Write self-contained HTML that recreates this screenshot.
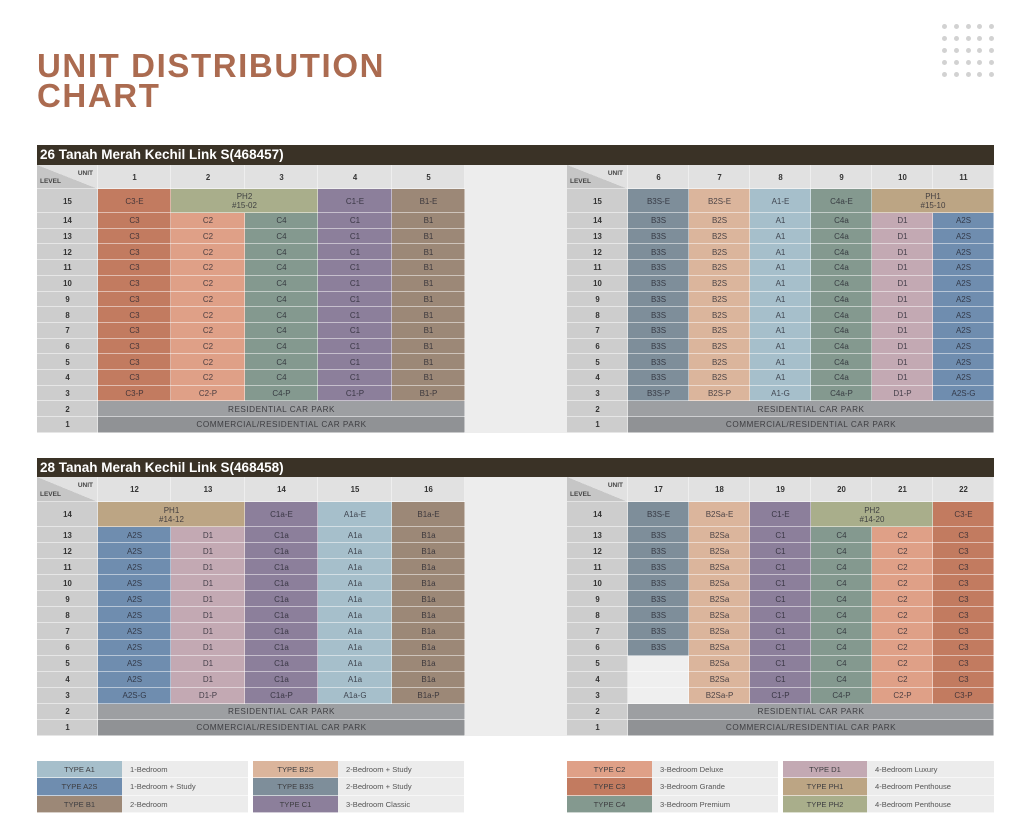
<!DOCTYPE html>
<html><head><meta charset="utf-8">
<style>
*{margin:0;padding:0;box-sizing:border-box}
body{width:1024px;height:833px;background:#fff;position:relative;overflow:hidden;font-family:"Liberation Sans",sans-serif}
.title{position:absolute;left:37px;top:51px;font-size:33px;line-height:30px;font-weight:bold;color:#ab6b50;letter-spacing:1.6px}
.dots{position:absolute;left:942px;top:24px}
.dots i{position:absolute;width:5px;height:5px;border-radius:50%;background:#d2d2d2}
.bar{position:absolute;left:37px;width:957px;height:20px;background:#3a3226;color:#fff;font-weight:bold;font-size:13.5px;line-height:20px;padding-left:3px}
table.t{position:absolute;left:37px;width:957px;table-layout:fixed;border-collapse:separate;border-spacing:0}
table.t td{padding:0;text-align:center;vertical-align:middle;font-size:8px;line-height:9px;color:rgba(35,35,45,.78);box-shadow:inset 0 -1px 0 rgba(255,255,255,.5),inset -1px 0 0 rgba(255,255,255,.45);overflow:hidden;white-space:nowrap}
table.t td.lv{background:#cdcdcd;font-weight:bold;color:#333;font-size:7.8px}
table.t td.hd{background:#e1e1e1;font-weight:bold;color:#333;font-size:7.8px}
table.t td.gp{background:#ededed;box-shadow:none}
table.t td.dg{position:relative;background:linear-gradient(to top right,#c6c6c6 50%,#e1e1e1 50%)}
td.dg .u{position:absolute;right:5px;top:4px;font-size:6.5px;font-weight:bold;color:#444}
td.dg .l{position:absolute;left:3px;bottom:3px;font-size:6.5px;font-weight:bold;color:#444}
.c3{background:#c27b60}.c2{background:#dfa087}.c4{background:#84998f}.c1{background:#8c7f9b}.b1{background:#9c8877}
.ph2{background:#a9ae8b}.ph1{background:#bca584}.b3s{background:#7e8e9a}.b2s{background:#dbb59c}.a1{background:#a6bfcb}
.d1{background:#c3a9b3}.a2s{background:#6f8daf}.cp2{background:#9d9fa2}.cp1{background:#909295}.bl{background:#efefef}
table.t td.cp2,table.t td.cp1{font-size:8.2px;letter-spacing:.5px;color:#3e3e42}
.lg{position:absolute;font-size:7.6px;line-height:17px;height:17px;color:#3d3d40;box-shadow:inset 0 -1px 0 rgba(255,255,255,.6)}
.lg.s{text-align:center;width:85px}
.lg.d{background:#ececec;padding-left:8px;color:#555}
</style></head><body>
<div class="title">UNIT DISTRIBUTION<br>CHART</div>
<div class="dots">
<i style="left:0;top:0"></i><i style="left:12px;top:0"></i><i style="left:24px;top:0"></i><i style="left:35px;top:0"></i><i style="left:47px;top:0"></i>
<i style="left:0;top:12px"></i><i style="left:12px;top:12px"></i><i style="left:24px;top:12px"></i><i style="left:35px;top:12px"></i><i style="left:47px;top:12px"></i>
<i style="left:0;top:24px"></i><i style="left:12px;top:24px"></i><i style="left:24px;top:24px"></i><i style="left:35px;top:24px"></i><i style="left:47px;top:24px"></i>
<i style="left:0;top:36px"></i><i style="left:12px;top:36px"></i><i style="left:24px;top:36px"></i><i style="left:35px;top:36px"></i><i style="left:47px;top:36px"></i>
<i style="left:0;top:48px"></i><i style="left:12px;top:48px"></i><i style="left:24px;top:48px"></i><i style="left:35px;top:48px"></i><i style="left:47px;top:48px"></i>
</div>

<div class="bar" style="top:145px">26 Tanah Merah Kechil Link S(468457)</div>
<table class="t" style="top:165px">
<colgroup><col style="width:61px"><col style="width:73px"><col style="width:74px"><col style="width:73px"><col style="width:74px"><col style="width:73px"><col style="width:102px"><col style="width:61px"><col style="width:61px"><col style="width:61px"><col style="width:61px"><col style="width:61px"><col style="width:61px"><col style="width:61px"></colgroup>
<tr style="height:24px"><td class="dg"><span class="u">UNIT</span><span class="l">LEVEL</span></td><td class="hd">1</td><td class="hd">2</td><td class="hd">3</td><td class="hd">4</td><td class="hd">5</td><td class="gp" rowspan="16"></td><td class="dg"><span class="u">UNIT</span><span class="l">LEVEL</span></td><td class="hd">6</td><td class="hd">7</td><td class="hd">8</td><td class="hd">9</td><td class="hd">10</td><td class="hd">11</td></tr>
<tr style="height:24px"><td class="lv">15</td><td class="c3">C3-E</td><td class="ph2" colspan="2">PH2<br>#15-02</td><td class="c1">C1-E</td><td class="b1">B1-E</td><td class="lv">15</td><td class="b3s">B3S-E</td><td class="b2s">B2S-E</td><td class="a1">A1-E</td><td class="c4">C4a-E</td><td class="ph1" colspan="2">PH1<br>#15-10</td></tr>
<tr style="height:15.71px"><td class="lv">14</td><td class="c3">C3</td><td class="c2">C2</td><td class="c4">C4</td><td class="c1">C1</td><td class="b1">B1</td><td class="lv">14</td><td class="b3s">B3S</td><td class="b2s">B2S</td><td class="a1">A1</td><td class="c4">C4a</td><td class="d1">D1</td><td class="a2s">A2S</td></tr>
<tr style="height:15.71px"><td class="lv">13</td><td class="c3">C3</td><td class="c2">C2</td><td class="c4">C4</td><td class="c1">C1</td><td class="b1">B1</td><td class="lv">13</td><td class="b3s">B3S</td><td class="b2s">B2S</td><td class="a1">A1</td><td class="c4">C4a</td><td class="d1">D1</td><td class="a2s">A2S</td></tr>
<tr style="height:15.71px"><td class="lv">12</td><td class="c3">C3</td><td class="c2">C2</td><td class="c4">C4</td><td class="c1">C1</td><td class="b1">B1</td><td class="lv">12</td><td class="b3s">B3S</td><td class="b2s">B2S</td><td class="a1">A1</td><td class="c4">C4a</td><td class="d1">D1</td><td class="a2s">A2S</td></tr>
<tr style="height:15.71px"><td class="lv">11</td><td class="c3">C3</td><td class="c2">C2</td><td class="c4">C4</td><td class="c1">C1</td><td class="b1">B1</td><td class="lv">11</td><td class="b3s">B3S</td><td class="b2s">B2S</td><td class="a1">A1</td><td class="c4">C4a</td><td class="d1">D1</td><td class="a2s">A2S</td></tr>
<tr style="height:15.71px"><td class="lv">10</td><td class="c3">C3</td><td class="c2">C2</td><td class="c4">C4</td><td class="c1">C1</td><td class="b1">B1</td><td class="lv">10</td><td class="b3s">B3S</td><td class="b2s">B2S</td><td class="a1">A1</td><td class="c4">C4a</td><td class="d1">D1</td><td class="a2s">A2S</td></tr>
<tr style="height:15.71px"><td class="lv">9</td><td class="c3">C3</td><td class="c2">C2</td><td class="c4">C4</td><td class="c1">C1</td><td class="b1">B1</td><td class="lv">9</td><td class="b3s">B3S</td><td class="b2s">B2S</td><td class="a1">A1</td><td class="c4">C4a</td><td class="d1">D1</td><td class="a2s">A2S</td></tr>
<tr style="height:15.71px"><td class="lv">8</td><td class="c3">C3</td><td class="c2">C2</td><td class="c4">C4</td><td class="c1">C1</td><td class="b1">B1</td><td class="lv">8</td><td class="b3s">B3S</td><td class="b2s">B2S</td><td class="a1">A1</td><td class="c4">C4a</td><td class="d1">D1</td><td class="a2s">A2S</td></tr>
<tr style="height:15.71px"><td class="lv">7</td><td class="c3">C3</td><td class="c2">C2</td><td class="c4">C4</td><td class="c1">C1</td><td class="b1">B1</td><td class="lv">7</td><td class="b3s">B3S</td><td class="b2s">B2S</td><td class="a1">A1</td><td class="c4">C4a</td><td class="d1">D1</td><td class="a2s">A2S</td></tr>
<tr style="height:15.71px"><td class="lv">6</td><td class="c3">C3</td><td class="c2">C2</td><td class="c4">C4</td><td class="c1">C1</td><td class="b1">B1</td><td class="lv">6</td><td class="b3s">B3S</td><td class="b2s">B2S</td><td class="a1">A1</td><td class="c4">C4a</td><td class="d1">D1</td><td class="a2s">A2S</td></tr>
<tr style="height:15.71px"><td class="lv">5</td><td class="c3">C3</td><td class="c2">C2</td><td class="c4">C4</td><td class="c1">C1</td><td class="b1">B1</td><td class="lv">5</td><td class="b3s">B3S</td><td class="b2s">B2S</td><td class="a1">A1</td><td class="c4">C4a</td><td class="d1">D1</td><td class="a2s">A2S</td></tr>
<tr style="height:15.71px"><td class="lv">4</td><td class="c3">C3</td><td class="c2">C2</td><td class="c4">C4</td><td class="c1">C1</td><td class="b1">B1</td><td class="lv">4</td><td class="b3s">B3S</td><td class="b2s">B2S</td><td class="a1">A1</td><td class="c4">C4a</td><td class="d1">D1</td><td class="a2s">A2S</td></tr>
<tr style="height:15.71px"><td class="lv">3</td><td class="c3">C3-P</td><td class="c2">C2-P</td><td class="c4">C4-P</td><td class="c1">C1-P</td><td class="b1">B1-P</td><td class="lv">3</td><td class="b3s">B3S-P</td><td class="b2s">B2S-P</td><td class="a1">A1-G</td><td class="c4">C4a-P</td><td class="d1">D1-P</td><td class="a2s">A2S-G</td></tr>
<tr style="height:15.71px"><td class="lv">2</td><td class="cp2" colspan="5">RESIDENTIAL CAR PARK</td><td class="lv">2</td><td class="cp2" colspan="6">RESIDENTIAL CAR PARK</td></tr>
<tr style="height:15.71px"><td class="lv">1</td><td class="cp1" colspan="5">COMMERCIAL/RESIDENTIAL CAR PARK</td><td class="lv">1</td><td class="cp1" colspan="6">COMMERCIAL/RESIDENTIAL CAR PARK</td></tr>
</table>

<div class="bar" style="top:458px;height:19px;line-height:19px">28 Tanah Merah Kechil Link S(468458)</div>
<table class="t" style="top:477px">
<colgroup><col style="width:61px"><col style="width:73px"><col style="width:74px"><col style="width:73px"><col style="width:74px"><col style="width:73px"><col style="width:102px"><col style="width:61px"><col style="width:61px"><col style="width:61px"><col style="width:61px"><col style="width:61px"><col style="width:61px"><col style="width:61px"></colgroup>
<tr style="height:25px"><td class="dg"><span class="u">UNIT</span><span class="l">LEVEL</span></td><td class="hd">12</td><td class="hd">13</td><td class="hd">14</td><td class="hd">15</td><td class="hd">16</td><td class="gp" rowspan="15"></td><td class="dg"><span class="u">UNIT</span><span class="l">LEVEL</span></td><td class="hd">17</td><td class="hd">18</td><td class="hd">19</td><td class="hd">20</td><td class="hd">21</td><td class="hd">22</td></tr>
<tr style="height:25px"><td class="lv">14</td><td class="ph1" colspan="2">PH1<br>#14-12</td><td class="c1">C1a-E</td><td class="a1">A1a-E</td><td class="b1">B1a-E</td><td class="lv">14</td><td class="b3s">B3S-E</td><td class="b2s">B2Sa-E</td><td class="c1">C1-E</td><td class="ph2" colspan="2">PH2<br>#14-20</td><td class="c3">C3-E</td></tr>
<tr style="height:16.08px"><td class="lv">13</td><td class="a2s">A2S</td><td class="d1">D1</td><td class="c1">C1a</td><td class="a1">A1a</td><td class="b1">B1a</td><td class="lv">13</td><td class="b3s">B3S</td><td class="b2s">B2Sa</td><td class="c1">C1</td><td class="c4">C4</td><td class="c2">C2</td><td class="c3">C3</td></tr>
<tr style="height:16.08px"><td class="lv">12</td><td class="a2s">A2S</td><td class="d1">D1</td><td class="c1">C1a</td><td class="a1">A1a</td><td class="b1">B1a</td><td class="lv">12</td><td class="b3s">B3S</td><td class="b2s">B2Sa</td><td class="c1">C1</td><td class="c4">C4</td><td class="c2">C2</td><td class="c3">C3</td></tr>
<tr style="height:16.08px"><td class="lv">11</td><td class="a2s">A2S</td><td class="d1">D1</td><td class="c1">C1a</td><td class="a1">A1a</td><td class="b1">B1a</td><td class="lv">11</td><td class="b3s">B3S</td><td class="b2s">B2Sa</td><td class="c1">C1</td><td class="c4">C4</td><td class="c2">C2</td><td class="c3">C3</td></tr>
<tr style="height:16.08px"><td class="lv">10</td><td class="a2s">A2S</td><td class="d1">D1</td><td class="c1">C1a</td><td class="a1">A1a</td><td class="b1">B1a</td><td class="lv">10</td><td class="b3s">B3S</td><td class="b2s">B2Sa</td><td class="c1">C1</td><td class="c4">C4</td><td class="c2">C2</td><td class="c3">C3</td></tr>
<tr style="height:16.08px"><td class="lv">9</td><td class="a2s">A2S</td><td class="d1">D1</td><td class="c1">C1a</td><td class="a1">A1a</td><td class="b1">B1a</td><td class="lv">9</td><td class="b3s">B3S</td><td class="b2s">B2Sa</td><td class="c1">C1</td><td class="c4">C4</td><td class="c2">C2</td><td class="c3">C3</td></tr>
<tr style="height:16.08px"><td class="lv">8</td><td class="a2s">A2S</td><td class="d1">D1</td><td class="c1">C1a</td><td class="a1">A1a</td><td class="b1">B1a</td><td class="lv">8</td><td class="b3s">B3S</td><td class="b2s">B2Sa</td><td class="c1">C1</td><td class="c4">C4</td><td class="c2">C2</td><td class="c3">C3</td></tr>
<tr style="height:16.08px"><td class="lv">7</td><td class="a2s">A2S</td><td class="d1">D1</td><td class="c1">C1a</td><td class="a1">A1a</td><td class="b1">B1a</td><td class="lv">7</td><td class="b3s">B3S</td><td class="b2s">B2Sa</td><td class="c1">C1</td><td class="c4">C4</td><td class="c2">C2</td><td class="c3">C3</td></tr>
<tr style="height:16.08px"><td class="lv">6</td><td class="a2s">A2S</td><td class="d1">D1</td><td class="c1">C1a</td><td class="a1">A1a</td><td class="b1">B1a</td><td class="lv">6</td><td class="b3s">B3S</td><td class="b2s">B2Sa</td><td class="c1">C1</td><td class="c4">C4</td><td class="c2">C2</td><td class="c3">C3</td></tr>
<tr style="height:16.08px"><td class="lv">5</td><td class="a2s">A2S</td><td class="d1">D1</td><td class="c1">C1a</td><td class="a1">A1a</td><td class="b1">B1a</td><td class="lv">5</td><td class="bl"></td><td class="b2s">B2Sa</td><td class="c1">C1</td><td class="c4">C4</td><td class="c2">C2</td><td class="c3">C3</td></tr>
<tr style="height:16.08px"><td class="lv">4</td><td class="a2s">A2S</td><td class="d1">D1</td><td class="c1">C1a</td><td class="a1">A1a</td><td class="b1">B1a</td><td class="lv">4</td><td class="bl"></td><td class="b2s">B2Sa</td><td class="c1">C1</td><td class="c4">C4</td><td class="c2">C2</td><td class="c3">C3</td></tr>
<tr style="height:16.08px"><td class="lv">3</td><td class="a2s">A2S-G</td><td class="d1">D1-P</td><td class="c1">C1a-P</td><td class="a1">A1a-G</td><td class="b1">B1a-P</td><td class="lv">3</td><td class="bl"></td><td class="b2s">B2Sa-P</td><td class="c1">C1-P</td><td class="c4">C4-P</td><td class="c2">C2-P</td><td class="c3">C3-P</td></tr>
<tr style="height:16.08px"><td class="lv">2</td><td class="cp2" colspan="5">RESIDENTIAL CAR PARK</td><td class="lv">2</td><td class="cp2" colspan="6">RESIDENTIAL CAR PARK</td></tr>
<tr style="height:16.08px"><td class="lv">1</td><td class="cp1" colspan="5">COMMERCIAL/RESIDENTIAL CAR PARK</td><td class="lv">1</td><td class="cp1" colspan="6">COMMERCIAL/RESIDENTIAL CAR PARK</td></tr>
</table>

<div class="lg s a1" style="left:37px;top:761px">TYPE A1</div><div class="lg d" style="left:122px;top:761px;width:126px">1-Bedroom</div>
<div class="lg s a2s" style="left:37px;top:778px;height:18px;line-height:18px">TYPE A2S</div><div class="lg d" style="left:122px;top:778px;width:126px;height:18px;line-height:18px">1-Bedroom + Study</div>
<div class="lg s b1" style="left:37px;top:796px">TYPE B1</div><div class="lg d" style="left:122px;top:796px;width:126px">2-Bedroom</div>

<div class="lg s b2s" style="left:253px;top:761px">TYPE B2S</div><div class="lg d" style="left:338px;top:761px;width:126px">2-Bedroom + Study</div>
<div class="lg s b3s" style="left:253px;top:778px;height:18px;line-height:18px">TYPE B3S</div><div class="lg d" style="left:338px;top:778px;width:126px;height:18px;line-height:18px">2-Bedroom + Study</div>
<div class="lg s c1" style="left:253px;top:796px">TYPE C1</div><div class="lg d" style="left:338px;top:796px;width:126px">3-Bedroom Classic</div>

<div class="lg s c2" style="left:567px;top:761px">TYPE C2</div><div class="lg d" style="left:652px;top:761px;width:126px">3-Bedroom Deluxe</div>
<div class="lg s c3" style="left:567px;top:778px;height:18px;line-height:18px">TYPE C3</div><div class="lg d" style="left:652px;top:778px;width:126px;height:18px;line-height:18px">3-Bedroom Grande</div>
<div class="lg s c4" style="left:567px;top:796px">TYPE C4</div><div class="lg d" style="left:652px;top:796px;width:126px">3-Bedroom Premium</div>

<div class="lg s d1" style="left:783px;top:761px;width:84px">TYPE D1</div><div class="lg d" style="left:867px;top:761px;width:127px">4-Bedroom Luxury</div>
<div class="lg s ph1" style="left:783px;top:778px;width:84px;height:18px;line-height:18px">TYPE PH1</div><div class="lg d" style="left:867px;top:778px;width:127px;height:18px;line-height:18px">4-Bedroom Penthouse</div>
<div class="lg s ph2" style="left:783px;top:796px;width:84px">TYPE PH2</div><div class="lg d" style="left:867px;top:796px;width:127px">4-Bedroom Penthouse</div>
</body></html>
